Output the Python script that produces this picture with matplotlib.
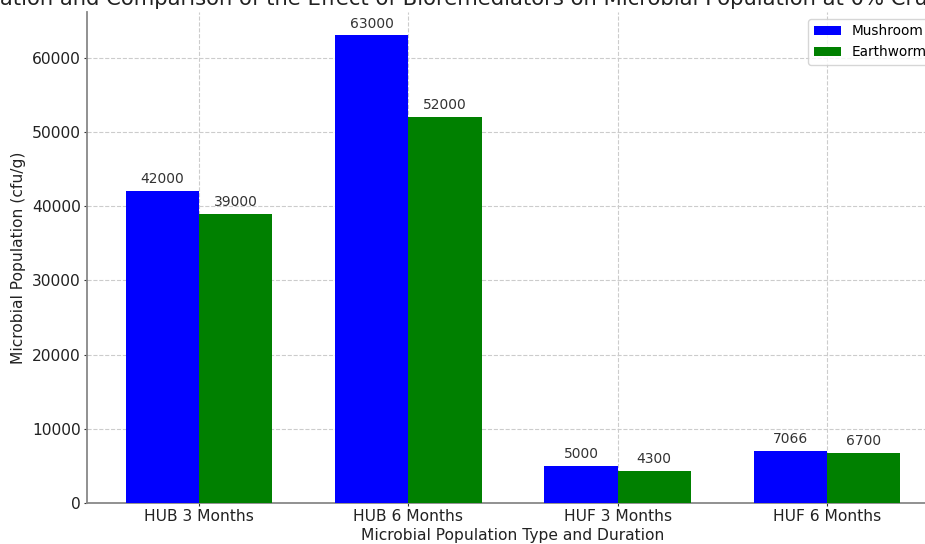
import matplotlib
matplotlib.use("Agg")
import matplotlib.pyplot as plt
import numpy as np

categories = ["HUB 3 Months", "HUB 6 Months", "HUF 3 Months", "HUF 6 Months"]
mushroom = [42000, 63000, 5000, 7066]
earthworm = [39000, 52000, 4300, 6700]
title = ("Evaluation and Comparison of the Effect of Bioremediators on "
         "Microbial Population at 0% Crude Oil Pollution")

W, H = 925, 544
fig = plt.figure(figsize=(W/100, H/100), dpi=100)
ax = fig.add_axes([87/W, 1-503/H, (939-87)/W, (503-12)/H])

x = np.arange(len(categories))
w = 0.35
b1 = ax.bar(x - w/2, mushroom, w, color="blue", label="Mushroom", zorder=3)
b2 = ax.bar(x + w/2, earthworm, w, color="green", label="Earthworm", zorder=3)

for bars, vals in ((b1, mushroom), (b2, earthworm)):
    for rect, v in zip(bars, vals):
        ax.annotate(f"{v}", (rect.get_x() + rect.get_width()/2, rect.get_height()),
                    xytext=(0, 3.5), textcoords="offset points", ha="center", va="bottom",
                    fontsize=10, color="#333333")

ax.set_xticks(x)
ax.set_xticklabels(categories)
ax.tick_params(axis="both", labelsize=11.2, length=2.5, pad=2, colors="#333333",
               labelcolor="#222222")
ax.set_xlabel("Microbial Population Type and Duration", fontsize=11.2, labelpad=3,
              color="#222222")
ax.set_ylabel("Microbial Population (cfu/g)", fontsize=11.2, color="#222222")
ax.grid(True, linestyle="--", color="#cccccc", linewidth=0.8, zorder=0)
ax.legend(loc="upper right", fontsize=9.8)
for s in ("top", "right"):
    ax.spines[s].set_visible(False)
for s in ("left", "bottom"):
    ax.spines[s].set_color("#888888")
    ax.spines[s].set_linewidth(1.3)

# title: the reference shows it cropped, starting at "ation" on the left edge
tfs = 15.2
renderer = fig.canvas.get_renderer()
probe = fig.text(0, 0, "Evalu", fontsize=tfs)
pw = probe.get_window_extent(renderer).width
probe.remove()
fig.text(-pw/W, 1-5/H, title, fontsize=tfs, ha="left", va="baseline", color="#222222")

fig.savefig("out.png", dpi=100)
